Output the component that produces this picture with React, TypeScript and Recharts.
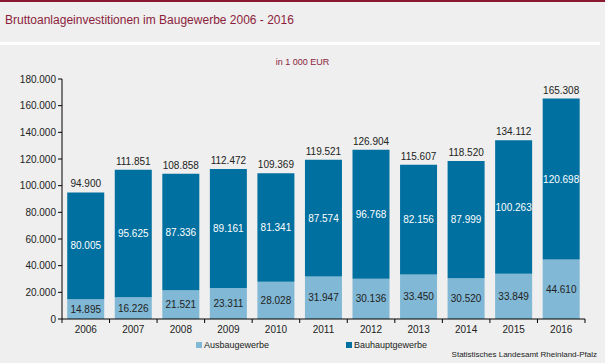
import { Bar, BarChart, LabelList, XAxis, YAxis } from 'recharts'

const years = ['2006', '2007', '2008', '2009', '2010', '2011', '2012', '2013', '2014', '2015', '2016']
const ausbaugewerbe = [14895, 16226, 21521, 23311, 28028, 31947, 30136, 33450, 30520, 33849, 44610]
const bauhauptgewerbe = [80005, 95625, 87336, 89161, 81341, 87574, 96768, 82156, 87999, 100263, 120698]
// totals as printed in the source (rounded there independently)
const insgesamt = [94900, 111851, 108858, 112472, 109369, 119521, 126904, 115607, 118520, 134112, 165308]
const yTicks = [0, 20000, 40000, 60000, 80000, 100000, 120000, 140000, 160000, 180000]

const data = years.map((year, i) => ({
  year,
  ausbau: ausbaugewerbe[i],
  bauhaupt: bauhauptgewerbe[i],
  total: insgesamt[i],
}))

const fmt = (v: number) => String(Math.round(v)).replace(/\B(?=(\d{3})+(?!\d))/g, '.')

const FONT = '"Liberation Sans", Arial, sans-serif'
const RED = '#8c1d3c'
const LIGHT = '#80b8d5'
const DARK = '#0070a0'

const W = 605
const H = 363
const M = { top: 79, right: 20, bottom: 24, left: 5 }
const Y_W = 57
const STEP = (W - M.left - M.right - Y_W) / years.length

// category ticks sit at the band borders, not in the middle
// (tickSize/tickMargin are 0, so y is the axis line itself)
const XTick = (props: any) => {
  const { x, y, payload, index } = props
  const left = x - STEP / 2
  return (
    <g>
      <line x1={left} x2={left} y1={y} y2={y + 4} stroke="#000" />
      {index === years.length - 1 && (
        <line x1={left + STEP} x2={left + STEP} y1={y} y2={y + 4} stroke="#000" />
      )}
      <text x={x} y={y + 14} textAnchor="middle" fontSize={10} fill="#222" fontFamily={FONT}>
        {payload.value}
      </text>
    </g>
  )
}

const legendItems = [
  { label: 'Ausbaugewerbe', color: LIGHT, left: 196 },
  { label: 'Bauhauptgewerbe', color: DARK, left: 346 },
]

export default function App() {
  return (
    <div style={{ position: 'absolute', left: 0, top: 0, width: W, height: H, background: '#eeefee', fontFamily: FONT, overflow: 'hidden' }}>
      <div style={{ position: 'absolute', left: 0, top: 0, width: W, height: 2, background: '#8b1a30' }} />
      <div style={{ position: 'absolute', left: 5, top: 13, fontSize: 12, color: RED }}>
        Bruttoanlageinvestitionen im Baugewerbe 2006 - 2016
      </div>
      <div style={{ position: 'absolute', left: 0, top: 42, width: 600, height: 3, background: '#ffffff' }} />
      <div style={{ position: 'absolute', left: 0, top: 57, width: W, textAlign: 'center', fontSize: 9, color: RED }}>
        in 1 000 EUR
      </div>
      <div style={{ position: 'absolute', left: 0, top: 0 }}>
        <BarChart width={W} height={H} data={data} margin={M} barCategoryGap="11%">
          <XAxis
            dataKey="year"
            axisLine={{ stroke: '#000' }}
            tickLine={false}
            tickSize={0}
            tickMargin={0}
            tick={<XTick />}
            height={20}
            interval={0}
          />
          <YAxis
            domain={[0, 180000]}
            ticks={yTicks}
            width={Y_W}
            tickFormatter={fmt}
            axisLine={{ stroke: '#000' }}
            tickLine={{ stroke: '#000' }}
            tickSize={4}
            tick={{ fontSize: 10, fill: '#222', fontFamily: FONT }}
          />
          <Bar dataKey="ausbau" name="Ausbaugewerbe" stackId="a" fill={LIGHT} isAnimationActive={false}>
            <LabelList dataKey="ausbau" position="center" formatter={(v: any) => fmt(Number(v))} fontSize={10} fill="#222" fontFamily={FONT} />
          </Bar>
          <Bar dataKey="bauhaupt" name="Bauhauptgewerbe" stackId="a" fill={DARK} isAnimationActive={false}>
            <LabelList dataKey="bauhaupt" position="center" formatter={(v: any) => fmt(Number(v))} fontSize={10} fill="#ffffff" fontFamily={FONT} />
            <LabelList dataKey="total" position="top" offset={5} formatter={(v: any) => fmt(Number(v))} fontSize={10} fill="#222" fontFamily={FONT} />
          </Bar>
        </BarChart>
      </div>
      {legendItems.map((it) => (
        <div key={it.label} style={{ position: 'absolute', left: it.left, top: 340, fontSize: 9, color: '#222', display: 'flex', alignItems: 'center' }}>
          <span style={{ display: 'inline-block', width: 6, height: 6, background: it.color, marginRight: 2 }} />
          {it.label}
        </div>
      ))}
      <div style={{ position: 'absolute', right: 8, top: 350, fontSize: 8, color: '#222' }}>
        Statistisches Landesamt Rheinland-Pfalz
      </div>
    </div>
  )
}
